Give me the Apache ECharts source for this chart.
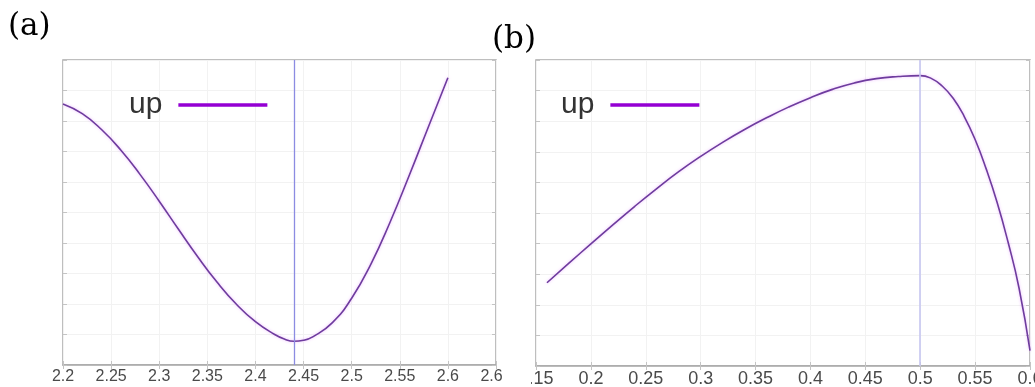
<!DOCTYPE html>
<html>
<head>
<meta charset="utf-8">
<script src="https://cdn.jsdelivr.net/npm/echarts@6/dist/echarts.min.js"></script>
<style>
  html, body { margin: 0; padding: 0; background: #fff; width: 1035px; height: 387px; overflow: hidden; }
  #titles { position: absolute; left: 0; top: 0; width: 1035px; height: 387px; }
  #panelA { position: absolute; left: 0; top: 0; width: 503px; height: 387px; overflow: hidden; }
  #panelB { position: absolute; left: 531px; top: 0; width: 504px; height: 387px; overflow: hidden; }
</style>
</head>
<body>
<div id="titles"></div>
<div id="panelA"></div>
<div id="panelB"></div>
<script>
// ---- data ----
const seriesName = 'up';
const panelTitles = ['(a)', '(b)'];

// panel (a): valley with its minimum marked
const xA = [2.2, 2.22, 2.24, 2.26, 2.28, 2.3, 2.32, 2.34, 2.36, 2.38, 2.4, 2.42, 2.43, 2.44, 2.45, 2.46, 2.48, 2.5, 2.52, 2.54, 2.56, 2.58, 2.6];
const yA = [8.56, 8.24, 7.72, 7.05, 6.25, 5.37, 4.45, 3.55, 2.72, 2.00, 1.42, 1.00, 0.85, 0.78, 0.81, 0.93, 1.39, 2.19, 3.31, 4.69, 6.23, 7.83, 9.42];
const ticksA = ['2.2', '2.25', '2.3', '2.35', '2.4', '2.45', '2.5', '2.55', '2.6', '2.65'];
const markerA = 2.44;

// panel (b): rise to a peak, then a steep drop
const xB = [0.16, 0.18, 0.2, 0.22, 0.24, 0.26, 0.28, 0.3, 0.32, 0.34, 0.36, 0.38, 0.4, 0.42, 0.44, 0.46, 0.48, 0.5,
            0.51, 0.52, 0.53, 0.54, 0.55, 0.56, 0.57, 0.58, 0.59, 0.6];
const yB = [2.72, 3.36, 3.99, 4.61, 5.22, 5.80, 6.35, 6.85, 7.31, 7.73, 8.11, 8.46, 8.77, 9.04, 9.25, 9.39, 9.46, 9.49,
            9.40, 9.15, 8.75, 8.16, 7.40, 6.45, 5.35, 4.05, 2.55, 0.50];
const ticksB = ['0.15', '0.2', '0.25', '0.3', '0.35', '0.4', '0.45', '0.5', '0.55', '0.6'];
const markerB = 0.5;

const yTicks = [0, 1, 2, 3, 4, 5, 6, 7, 8, 9, 10];

// ---- styling helpers ----
const FRAME = '#a9a9a9';
const TICK = '#c4c4c4';
const GRIDLINE = '#f2f2f2';
const CURVE = '#6e3c9e';
const KEY = '#9400d3';

function panelOption(xs, ys, ticks, marker, cfg) {
  const step = 0.05;
  const xmin = Number(ticks[0]);
  const xmax = Number(ticks[ticks.length - 1]);
  const ymin = yTicks[0];
  const ymax = yTicks[yTicks.length - 1];
  const inTick = { show: true, inside: true, length: 4, lineStyle: { color: TICK, width: 1 } };
  return {
    animation: false,
    grid: {
      left: cfg.left, top: 60, width: cfg.width, height: cfg.height,
      outerBoundsMode: 'none', containLabel: false,
      show: true, borderColor: FRAME, borderWidth: 1.5, backgroundColor: 'transparent'
    },
    legend: {
      data: [{ name: seriesName, icon: 'rect', itemStyle: { color: KEY } }],
      left: cfg.legendLeft, top: 85,
      align: 'right', itemWidth: 89, itemHeight: 3.5,
      textStyle: { fontSize: 30, color: '#333', fontFamily: 'Liberation Sans', padding: [0, 11, 0, 0] }
    },
    xAxis: [{
      type: 'value', min: xmin, max: xmax, interval: step,
      axisLine: { show: true, lineStyle: { color: FRAME, width: 1.5 } },
      axisTick: inTick,
      axisLabel: {
        show: true, margin: 4, color: '#4a4a4a', fontSize: cfg.fontSize, fontFamily: 'Liberation Sans',
        showMinLabel: true, showMaxLabel: true, hideOverlap: false,
        formatter: v => ticks[Math.round((v - xmin) / step)]
      },
      splitLine: { show: true, lineStyle: { color: GRIDLINE, width: 1 } }
    }, {
      type: 'value', position: 'top', min: xmin, max: xmax, interval: step,
      axisLine: { show: false }, axisTick: inTick, axisLabel: { show: false }, splitLine: { show: false }
    }],
    yAxis: [{
      type: 'value', min: ymin, max: ymax, interval: 1,
      axisLine: { show: false }, axisTick: inTick, axisLabel: { show: false },
      splitLine: { show: true, lineStyle: { color: GRIDLINE, width: 1 } }
    }, {
      type: 'value', position: 'right', min: ymin, max: ymax, interval: 1,
      axisLine: { show: false }, axisTick: inTick, axisLabel: { show: false }, splitLine: { show: false }
    }],
    series: [{
      name: seriesName, type: 'line', xAxisIndex: 0, yAxisIndex: 0,
      data: xs.map((x, i) => [x, ys[i]]),
      showSymbol: false, smooth: cfg.smooth,
      lineStyle: { color: CURVE, width: 1.6, shadowColor: 'rgba(225,140,255,0.6)', shadowBlur: 3 },
      itemStyle: { color: CURVE },
      markLine: {
        silent: true, symbol: 'none', animation: false,
        label: { show: false },
        lineStyle: { color: cfg.markerColor, width: cfg.markerWidth, type: 'solid' },
        data: [{ xAxis: marker }]
      }
    }]
  };
}

// ---- panel captions ----
const titleChart = echarts.init(document.getElementById('titles'));
titleChart.setOption({
  animation: false,
  backgroundColor: '#fff',
  title: [
    { text: panelTitles[0], left: 8, top: 11, padding: 0,
      textStyle: { fontFamily: 'DejaVu Serif', fontSize: 31, fontWeight: 'normal', color: '#000' } },
    { text: panelTitles[1], left: 492, top: 24, padding: 0,
      textStyle: { fontFamily: 'DejaVu Serif', fontSize: 31, fontWeight: 'normal', color: '#000' } }
  ]
});

// ---- panels ----
const chartA = echarts.init(document.getElementById('panelA'));
chartA.setOption(panelOption(xA, yA, ticksA, markerA, {
  left: 63, width: 433, height: 305, fontSize: 16, legendLeft: 124,
  markerColor: '#8c8ce2', markerWidth: 1.3, smooth: 0.5
}));

const chartB = echarts.init(document.getElementById('panelB'));
chartB.setOption(panelOption(xB, yB, ticksB, markerB, {
  left: 5, width: 494, height: 306, fontSize: 18, legendLeft: 25,
  markerColor: '#c6c6f0', markerWidth: 1.6, smooth: 0.5
}));
</script>
</body>
</html>
